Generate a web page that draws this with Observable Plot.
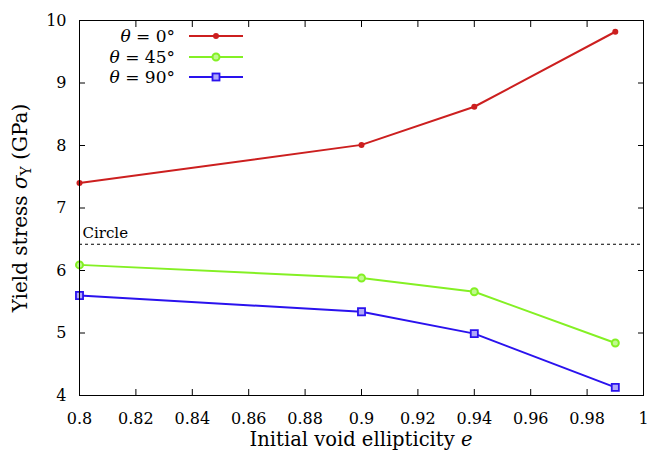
<!DOCTYPE html>
<html>
<head>
<meta charset="utf-8">
<script src="https://cdn.jsdelivr.net/npm/d3@7"></script>
<script src="https://cdn.jsdelivr.net/npm/@observablehq/plot@0.6"></script>
<style>
  html, body { margin: 0; padding: 0; background: #fff; }
</style>
</head>
<body>
<div id="chart"></div>
<script>
const ellipticity = [0.8, 0.9, 0.94, 0.99];
const theta0 = [7.40, 8.01, 8.62, 9.82];
const theta45 = [6.09, 5.88, 5.66, 4.84];
const theta90 = [5.60, 5.34, 4.99, 4.13];
const circleValue = 6.42;
const xTicks = [0.8, 0.82, 0.84, 0.86, 0.88, 0.9, 0.92, 0.94, 0.96, 0.98, 1];
const yTicks = [4, 5, 6, 7, 8, 9, 10];
const seriesNames = ["0°", "45°", "90°"];
const colors = ["#cc1f1f", "#84f024", "#2a12ee"];

const series = [theta0, theta45, theta90].map((vals, k) =>
  ellipticity.map((e, i) => ({e, y: vals[i], s: seriesNames[k]})));

const FF = "DejaVu Serif";
const W = 647, H = 457;
const plot = Plot.plot({
  width: W, height: H,
  marginLeft: 79, marginRight: 4, marginTop: 20, marginBottom: 62,
  style: {fontFamily: FF, fontSize: "16px", background: "#fff"},
  x: {domain: [0.8, 1], ticks: xTicks, label: null},
  y: {domain: [4, 10], ticks: yTicks, label: null},
  marks: [
    Plot.axisX({anchor: "bottom", ticks: xTicks, tickSize: -6, tickPadding: 23, label: null, tickFormat: d => String(d), fontSize: 16}),
    Plot.axisX({anchor: "top", ticks: xTicks, tickSize: -6, label: null, tickFormat: () => ""}),
    Plot.axisY({anchor: "left", ticks: yTicks, tickSize: -6, tickPadding: 19, label: null, tickFormat: d => String(d), fontSize: 16}),
    Plot.axisY({anchor: "right", ticks: yTicks, tickSize: -6, label: null, tickFormat: () => ""}),
    Plot.ruleY([circleValue], {stroke: "black", strokeWidth: 1, strokeDasharray: "3,3"}),
    Plot.text([{x: 0.8, y: circleValue}], {x: "x", y: "y", text: () => "Circle", textAnchor: "start", dx: 3, dy: -11, fontSize: 15, fill: "black"}),
    Plot.line(series[0], {x: "e", y: "y", stroke: colors[0], strokeWidth: 2}),
    Plot.dot(series[0], {x: "e", y: "y", fill: colors[0], r: 3, stroke: null}),
    Plot.line(series[1], {x: "e", y: "y", stroke: colors[1], strokeWidth: 2}),
    Plot.dot(series[1], {x: "e", y: "y", fill: "#c0f890", stroke: colors[1], strokeWidth: 2, r: 3.5}),
    Plot.line(series[2], {x: "e", y: "y", stroke: colors[2], strokeWidth: 2}),
    Plot.dot(series[2], {x: "e", y: "y", symbol: "square", fill: "#b0a8f8", stroke: colors[2], strokeWidth: 1.8, r: 4}),
    Plot.frame({stroke: "black", strokeWidth: 1})
  ]
});
document.getElementById("chart").appendChild(plot);

const svg = d3.select(plot);
// Axis labels
const xl = svg.append("text").attr("x", 361).attr("y", 446).attr("text-anchor", "middle")
  .attr("font-size", 19.5).attr("fill", "black");
xl.append("tspan").text("Initial void ellipticity ");
xl.append("tspan").attr("font-style", "italic").text("e");

const yl = svg.append("text").attr("transform", "translate(27,208) rotate(-90)")
  .attr("text-anchor", "middle").attr("font-size", 20).attr("fill", "black");
yl.append("tspan").text("Yield stress ");
yl.append("tspan").attr("font-style", "italic").text("σ");
yl.append("tspan").attr("font-size", 14).attr("dy", 4).text("Y");
yl.append("tspan").attr("dy", -4).text(" (GPa)");

// Legend
const rows = [36, 57, 77];
seriesNames.forEach((name, k) => {
  const y = rows[k];
  const t = svg.append("text").attr("x", 175).attr("y", y + 6).attr("text-anchor", "end")
    .attr("font-size", 17).attr("fill", "black");
  t.append("tspan").attr("font-style", "italic").text("θ");
  t.append("tspan").text(" = " + name);
  svg.append("line").attr("x1", 189).attr("x2", 243).attr("y1", y).attr("y2", y)
    .attr("stroke", colors[k]).attr("stroke-width", 2);
  if (k === 0) svg.append("circle").attr("cx", 216).attr("cy", y).attr("r", 3).attr("fill", colors[0]);
  if (k === 1) svg.append("circle").attr("cx", 216).attr("cy", y).attr("r", 3.5).attr("fill", "#c0f890").attr("stroke", colors[1]).attr("stroke-width", 2);
  if (k === 2) svg.append("rect").attr("x", 212.5).attr("y", y - 3.5).attr("width", 7).attr("height", 7).attr("fill", "#b0a8f8").attr("stroke", colors[2]).attr("stroke-width", 1.8);
});
svg.selectAll("text").attr("font-family", FF).style("font-family", FF);
</script>
</body>
</html>
